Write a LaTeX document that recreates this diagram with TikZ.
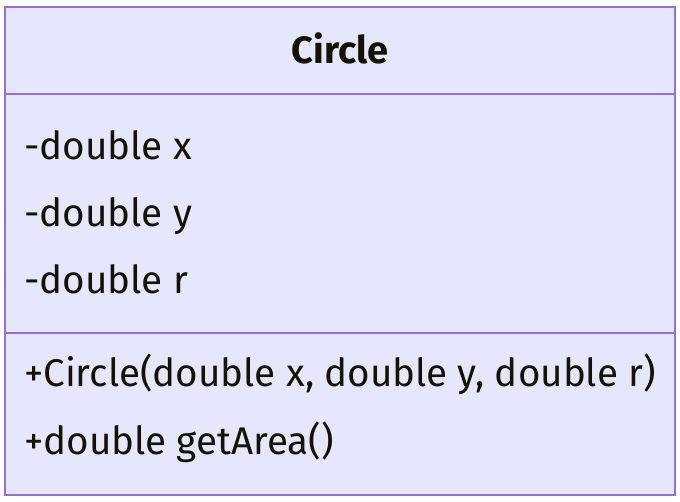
\documentclass[tikz,border=0pt]{standalone}
\usepackage{fontspec}
\setmainfont{Fira Sans}
\usetikzlibrary{positioning}
\definecolor{classfill}{HTML}{E6E6FF}
\definecolor{classline}{HTML}{9370DB}
\definecolor{classtext}{HTML}{131300}

\begin{document}
\begin{tikzpicture}[x=1pt,y=-1pt,
    member/.style={anchor=base west,inner sep=0pt,text=classtext,font=\fontsize{38.6}{44}\selectfont},
    title/.style={anchor=base,inner sep=0pt,text=classtext,font=\fontsize{38}{44}\selectfont\bfseries}]
            \useasboundingbox (0,0) rectangle (680,502);

            \draw[classline,fill=classfill,line width=2.2pt] (5,7) rectangle (675,495);
            \draw[classline,line width=2.2pt] (5,94) -- (675,94);
            \draw[classline,line width=2.2pt] (5,333) -- (675,333);

            \node[title] (Circle) at (340,64) {Circle};

            \node[member] (AttrX) at (24,160) {-double x};
            \node[member] (AttrY) at (24,227) {-double y};
            \node[member] (AttrR) at (24,294) {-double r};

            \node[member] (Ctor) at (24,387) {+Circle(double x, double y, double r)};
            \node[member] (GetArea) at (24,454) {+double getArea()};
        \end{tikzpicture}
\end{document}
